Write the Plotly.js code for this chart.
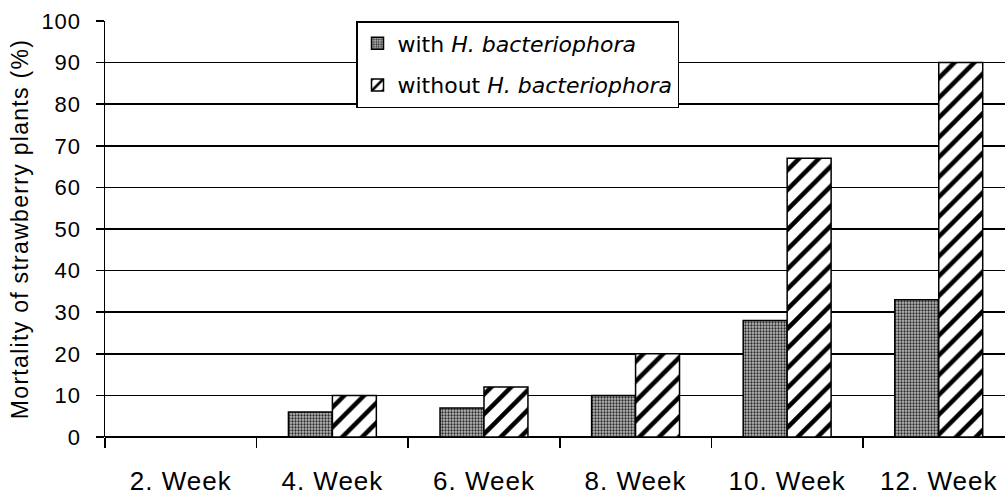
<!DOCTYPE html>
<html>
<head>
<meta charset="utf-8">
<script src="https://cdn.plot.ly/plotly-3.0.1.min.js"></script>
<style>
html,body{margin:0;padding:0;background:#fff;}
#chart{width:1005px;height:497px;}
#chart .xtick text{letter-spacing:1px;}
#chart .ytick text{letter-spacing:1px;}
#chart .ytitle{letter-spacing:1.3px;}
</style>
</head>
<body>
<div id="chart"></div>
<script>
const categories = ["2. Week", "4. Week", "6. Week", "8. Week", "10. Week", "12. Week"];
const withHb = [0, 6, 7, 10, 28, 33];
const withoutHb = [0, 10, 12, 20, 67, 90];
const yTicks = [0, 10, 20, 30, 40, 50, 60, 70, 80, 90, 100];

const FONT = "Liberation Sans, Arial, sans-serif";
const LEGEND_FONT = "DejaVu Sans, Liberation Sans, Arial, sans-serif";

const traces = [
  {
    type: "bar",
    name: "with <i>H. bacteriophora</i>",
    x: categories,
    y: withHb,
    legendgroup: "a",
    marker: {
      color: "#ffffff",
      line: {color: "#000", width: 1.5},
      pattern: {shape: ".", fgcolor: "#2a2a2a", bgcolor: "#bcbcbc", size: 3, solidity: 0.45}
    }
  },
  {
    type: "bar",
    name: "without <i>H. bacteriophora</i>",
    x: categories,
    y: withoutHb,
    legendgroup: "b",
    marker: {
      color: "#ffffff",
      line: {color: "#000", width: 1.5},
      pattern: {shape: "/", fgcolor: "#000", bgcolor: "#fff", size: 14, solidity: 0.32}
    }
  }
];

const layout = {
  width: 1005,
  height: 497,
  margin: {l: 105, r: 0, t: 21, b: 60, pad: 0},
  paper_bgcolor: "#fff",
  plot_bgcolor: "#fff",
  font: {family: FONT, color: "#000", size: 22},
  barmode: "group",
  bargap: 0.42,
  bargroupgap: 0,
  showlegend: true,
  legend: {
    x: 0.2789, xanchor: "left",
    y: 1.0, yanchor: "top",
    bgcolor: "#fff",
    bordercolor: "#000",
    borderwidth: 1.5,
    font: {family: LEGEND_FONT, size: 22, color: "#000"},
    traceorder: "grouped",
    tracegroupgap: 10,
    itemwidth: 30
  },
  xaxis: {
    type: "category",
    range: [-0.5, 5.437],
    tickson: "boundaries",
    ticks: "outside",
    ticklen: 10,
    tickwidth: 1.5,
    tickcolor: "#000",
    showgrid: false,
    showline: false,
    zeroline: false,
    tickfont: {family: FONT, size: 26, color: "#000"},
    ticklabelstandoff: 26
  },
  yaxis: {
    range: [0, 100],
    tickvals: yTicks,
    ticktext: yTicks.map(String),
    ticks: "outside",
    ticklen: 8,
    tickwidth: 1.5,
    tickcolor: "#000",
    showline: true,
    linecolor: "#000",
    linewidth: 1.5,
    showgrid: true,
    gridcolor: "#000",
    gridwidth: 1.5,
    zeroline: true,
    zerolinecolor: "#000",
    zerolinewidth: 1.5,
    tickfont: {family: FONT, size: 22, color: "#000"},
    ticklabelstandoff: 10,
    title: {
      text: "Mortality of strawberry plants (%)",
      font: {family: FONT, size: 23, color: "#000"},
      standoff: 9
    }
  }
};

Plotly.newPlot("chart", traces, layout, {displayModeBar: false, staticPlot: true});
</script>
</body>
</html>
